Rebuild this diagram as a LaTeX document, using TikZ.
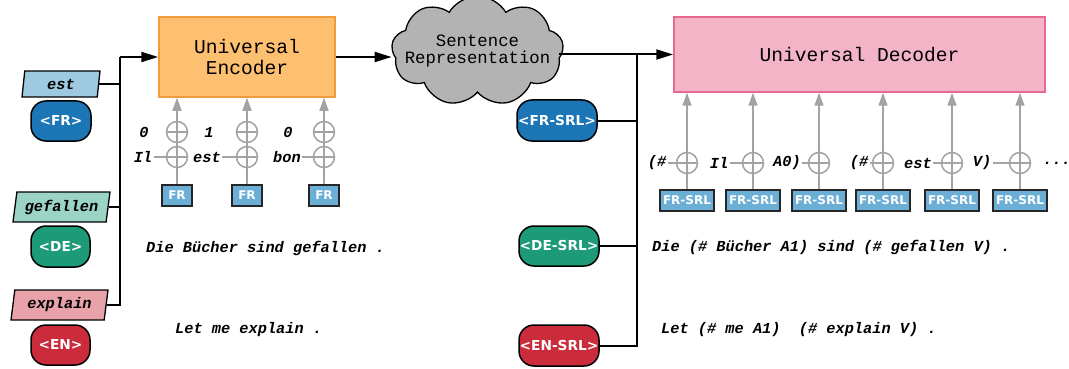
\documentclass[tikz,border=0pt]{standalone}
\usepackage{fontspec}
\newfontfamily\monof{Liberation Mono}
\newfontfamily\sansf{DejaVu Sans}
\usetikzlibrary{arrows.meta,shapes.geometric,shapes.symbols,calc}

\definecolor{frlight}{HTML}{9ECAE1}
\definecolor{frdark}{HTML}{1C76B6}
\definecolor{delight}{HTML}{9BD4C4}
\definecolor{dedark}{HTML}{1D9A78}
\definecolor{enlight}{HTML}{E8A3AA}
\definecolor{endark}{HTML}{CB2C3C}
\definecolor{encfill}{HTML}{FDC070}
\definecolor{encline}{HTML}{F39A3A}
\definecolor{decfill}{HTML}{F4B4C7}
\definecolor{decline}{HTML}{E66A8F}
\definecolor{cloudfill}{HTML}{B3B3B3}
\definecolor{boxfill}{HTML}{6BAED6}
\definecolor{plusgray}{HTML}{A3A3A3}

\begin{document}
\begin{tikzpicture}[x=1pt,y=-1pt,
  word/.style={font=\monof\bfseries\itshape\fontsize{15.3}{18}\selectfont},
  lbl/.style={word, inner sep=1.5pt},
  para/.style={trapezium, trapezium left angle=75, trapezium right angle=105,
    trapezium stretches body, draw=black, line width=1.3pt, inner sep=0pt, word},
  tag/.style={draw=black, line width=1.5pt, rounded corners=15pt, text=white,
    inner sep=0pt, font=\sansf\bfseries\fontsize{13.7}{16}\selectfont},
  tokbox/.style={draw=black!85, line width=1.8pt, fill=boxfill, text=white,
    minimum height=21, inner sep=0pt, font=\sansf\bfseries\fontsize{12}{13}\selectfont},
  oplus/.style={circle, draw=plusgray, line width=1.5pt, fill=white,
    minimum size=21, inner sep=0pt,
    path picture={\draw[plusgray, line width=1.5pt]
      (path picture bounding box.north) -- (path picture bounding box.south)
      (path picture bounding box.west) -- (path picture bounding box.east);}},
  gline/.style={draw=plusgray, line width=1.5pt},
  garrow/.style={gline, -{Triangle[length=13pt,width=9pt]}, plusgray},
  conn/.style={draw=black, line width=2pt},
  carrow/.style={conn, -{Triangle[length=17pt,width=10pt]}},
  bigbox/.style={line width=1.5pt, inner sep=0pt,
    font=\monof\fontsize{19.6}{24}\selectfont, align=center}
]
\useasboundingbox (0,0) rectangle (1069,369);

% ---------- language inputs ----------
\node[para, fill=frlight, minimum width=78, minimum height=26] (est) at (61,84) {est};
\node[tag, fill=frdark, minimum width=60, minimum height=40] (fr) at (61,121) {<FR>};
\node[para, fill=delight, minimum width=97, minimum height=30] (gef) at (61.5,207) {gefallen};
\node[tag, fill=dedark, minimum width=59, minimum height=41] (de) at (60.5,246.5) {<DE>};
\node[para, fill=enlight, minimum width=97, minimum height=30] (expl) at (59.5,305) {explain};
\node[tag, fill=endark, minimum width=59, minimum height=40] (en) at (60.5,345) {<EN>};

% ---------- encoder, cloud, decoder ----------
\node[bigbox, draw=encline, fill=encfill, minimum width=176, minimum height=80]
  (enc) at (247,57) {Universal\\[-3pt]Encoder};
\node[cloud, cloud puffs=9, cloud puff arc=120, cloud ignores aspect, draw=black,
  line width=1.3pt, fill=cloudfill, minimum width=172, minimum height=110,
  inner sep=0pt] (cloud) at (477.5,51) {};
\node[align=center, inner sep=0pt, font=\monof\fontsize{17.3}{19}\selectfont]
  (cloudtxt) at (cloud.center) {Sentence\\[-2pt]Representation};
\node[bigbox, draw=decline, fill=decfill, minimum width=371, minimum height=75]
  (dec) at (859.5,54.5) {Universal Decoder};

% ---------- SRL tags ----------
\node[tag, fill=frdark, minimum width=80, minimum height=41] (frs) at (557,120.5) {<FR-SRL>};
\node[tag, fill=dedark, minimum width=80, minimum height=40] (des) at (559,246) {<DE-SRL>};
\node[tag, fill=endark, minimum width=80, minimum height=41] (ens) at (559,345.5) {<EN-SRL>};

% ---------- left bus into the encoder ----------
\coordinate (busL) at (120,57);
\draw[conn] (expl.east) -- (expl.east -| busL) -- (busL);
\draw[conn, line width=1.4pt] (est.east) -- (est.east -| busL);
\draw[conn, line width=1.2pt] (gef.east) -- (gef.east -| busL);
\draw[carrow] (busL) -- (enc.west);

% ---------- encoder to cloud to decoder ----------
\draw[carrow] (enc.east) -- (enc.east -| cloud.west);
\coordinate (busR) at (637,55);
\draw[carrow] ([xshift=-4pt]cloud.east |- dec.west) -- (dec.west);
\draw[conn] (ens.east) -| (busR);
\draw[conn] (frs.east) -- (frs.east -| busR);
\draw[conn, line width=1.2pt] (des.east) -- (des.east -| busR);

% ---------- encoder token inputs ----------
\foreach \i/\x in {1/177, 2/247, 3/324} {
  \node[tokbox, minimum width=30] (fb\i) at (\x,195.5) {FR};
  \node[oplus] (lo\i) at (\x,157) {};
  \node[oplus] (up\i) at (\x,132) {};
  \draw[gline] (fb\i.north) -- (lo\i.south);
  \draw[gline] (lo\i.north) -- (up\i.south);
  \draw[garrow] (up\i.north) -- (up\i.north |- enc.south);
}
\node[lbl] (p1) at (144,132) {0};
\node[lbl] (p2) at (209,132) {1};
\node[lbl] (p3) at (288,132) {0};
\node[lbl] (w1) at (143,157) {Il};
\node[lbl] (w2) at (207,157) {est};
\node[lbl] (w3) at (287,157) {bon};
\foreach \i in {1,2,3} { \draw[gline] (w\i.east) -- (lo\i.west); }

% ---------- decoder token inputs ----------
\foreach \i/\x in {1/687, 2/753, 3/819, 4/883, 5/952, 6/1020} {
  \node[tokbox, minimum width=54] (sb\i) at (\x,200.5) {FR-SRL};
  \node[oplus] (dp\i) at (\x,163) {};
  \draw[gline] (sb\i.north) -- (dp\i.south);
  \draw[garrow] (dp\i.north) -- (dp\i.north |- dec.south);
}
\node[lbl] (t1) at (657,163) {(\#};
\node[lbl] (t2) at (719,163) {Il};
\node[lbl] (t3) at (787,163) {A0)};
\node[lbl] (t4) at (859,163) {(\#};
\node[lbl] (t5) at (918,163) {est};
\node[lbl] (t6) at (982,163) {V)};
\node[lbl] (t7) at (1057,163) {...};
\foreach \i in {1,...,6} { \draw[gline] (t\i.east) -- (dp\i.west); }

% ---------- example sentences ----------
\node[word, anchor=west, inner sep=0pt] (s1) at (146,248) {Die Bücher sind gefallen .};
\node[word, anchor=west, inner sep=0pt] (s2) at (175,330) {Let me explain .};
\node[word, anchor=west, inner sep=0pt] (s3) at (652,247) {Die (\# Bücher A1) sind (\# gefallen V) .};
\node[word, anchor=west, inner sep=0pt] (s4) at (661,330) {Let (\# me A1)\ \ (\# explain V) .};
\end{tikzpicture}
\end{document}
